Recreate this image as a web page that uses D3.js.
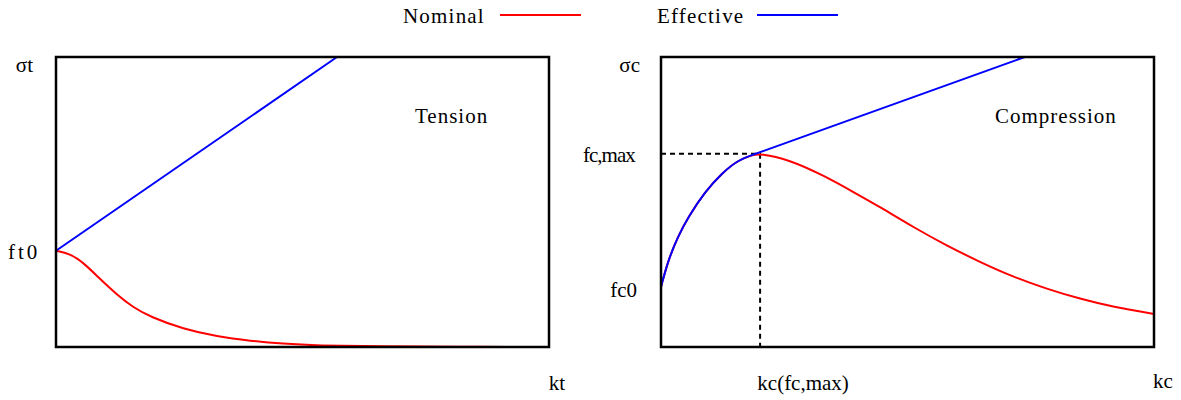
<!DOCTYPE html>
<html>
<head>
<meta charset="utf-8">
<script src="https://cdn.jsdelivr.net/npm/d3@7"></script>
<style>
  body { margin: 0; background: #fff; }
</style>
</head>
<body>
<svg width="1181" height="400" font-family="'Liberation Serif', 'Times New Roman', serif" font-size="21"></svg>
<script>
// punten, genormaliseerd 0..1 (rek, spanning)
const tensionK       = [0, 0.028, 0.055, 0.089, 0.124, 0.156, 0.191, 0.258, 0.327, 0.394, 0.460, 0.529, 0.663, 0.8, 1.0];
const tensionNominal = [0.332, 0.322, 0.292, 0.235, 0.180, 0.137, 0.104, 0.062, 0.036, 0.021, 0.011, 0.005, 0.002, 0.001, 0];
const tensionEffK    = [0, 0.570];
const tensionEff     = [0.332, 1.0];

const compK       = [0, 0.014, 0.034, 0.055, 0.089, 0.124, 0.156, 0.185, 0.201, 0.258, 0.327, 0.394, 0.444, 0.511, 0.580, 0.647, 0.714, 0.783, 0.850, 0.917, 1.0];
const compNominal = [0.207, 0.296, 0.380, 0.447, 0.535, 0.600, 0.644, 0.662, 0.667, 0.647, 0.594, 0.531, 0.483, 0.414, 0.349, 0.293, 0.242, 0.200, 0.166, 0.138, 0.114];
// effectief: stijgende tak gelijk aan nominaal, daarna rechte lijn
const compEffK    = [0, 0.014, 0.034, 0.055, 0.089, 0.124, 0.156, 0.185, 0.738];
const compEff     = [0.207, 0.296, 0.380, 0.447, 0.535, 0.600, 0.644, 0.662, 1.0];

const peakK = 0.201, peakS = 0.666;

const seriesNames = ["Nominal", "Effective"];
const seriesColors = ["#ff0000", "#0000ff"];

const svg = d3.select("svg");

function zip(xs, ys) { return xs.map((x, i) => [x, ys[i]]); }

function panel(x0, x1, o) {
  let x = d3.scaleLinear().domain([0, 1]).range([x0, x1]);
  let y = d3.scaleLinear().domain([0, 1]).range([347, 57]);
  let g = svg.append("g");
  let curve = d3.line().x(d => x(d[0])).y(d => y(d[1])).curve(d3.curveBasis);

  // stippellijnen naar het maximum
  if (o.peak) {
    g.append("path")
      .attr("d", "M" + x(0) + "," + y(o.peak[1]) + "H" + x(o.peak[0]) + "V" + y(0))
      .attr("fill", "none").attr("stroke", "#000")
      .attr("stroke-width", 2).attr("stroke-dasharray", "5,4");
  }

  g.append("path").datum(o.nominal).attr("d", curve)
    .attr("fill", "none").attr("stroke", seriesColors[0]).attr("stroke-width", 2);

  // effectief: gebogen deel + laatste punt als rechte lijn
  let eff = o.effective;
  let d = eff.length > 2 ? curve(eff.slice(0, -1)) : "M" + x(eff[0][0]) + "," + y(eff[0][1]);
  d += "L" + x(eff[eff.length - 1][0]) + "," + y(eff[eff.length - 1][1]);
  g.append("path").attr("d", d)
    .attr("fill", "none").attr("stroke", seriesColors[1]).attr("stroke-width", 2);

  g.append("rect")
    .attr("x", x0).attr("y", 57).attr("width", x1 - x0).attr("height", 290)
    .attr("fill", "none").attr("stroke", "#000").attr("stroke-width", 2.5);

  return { x: x, y: y, g: g };
}

let left = panel(56, 549, {
  nominal: zip(tensionK, tensionNominal),
  effective: zip(tensionEffK, tensionEff)
});
let right = panel(661, 1154, {
  nominal: zip(compK, compNominal),
  effective: zip(compEffK, compEff),
  peak: [peakK, peakS]
});

function label(g, x, y, t, anchor, spacing) {
  g.append("text").attr("x", x).attr("y", y)
    .attr("text-anchor", anchor || "start")
    .attr("letter-spacing", spacing || 0)
    .text(t);
}

// as labels
label(left.g, 33, 72, "σt", "end");
label(left.g, 8, left.y(tensionNominal[0]) + 8, "ft0", "start", 3);
label(left.g, 557, 390, "kt", "middle");
label(left.g, 415, 123, "Tension", "start", 1);

label(right.g, 640, 72, "σc", "end");
label(right.g, 583, right.y(peakS) + 8, "fc,max", "start", -1);
label(right.g, 637, right.y(compNominal[0]) + 10, "fc0", "end");
label(right.g, right.x(peakK) + 43, 390, "kc(fc,max)", "middle");
label(right.g, 1163, 388, "kc", "middle");
label(right.g, 995, 123, "Compression", "start", 1);

// legenda
let legendX = [403, 657], legendLine = [[500, 581], [757, 838]];
let leg = svg.append("g").selectAll("g").data(seriesNames).enter().append("g");
leg.append("text").attr("x", (d, i) => legendX[i]).attr("y", 23)
  .attr("letter-spacing", 1.2).text(d => d);
leg.append("line")
  .attr("x1", (d, i) => legendLine[i][0]).attr("x2", (d, i) => legendLine[i][1])
  .attr("y1", 15).attr("y2", 15)
  .attr("stroke", (d, i) => seriesColors[i]).attr("stroke-width", 2);
</script>
</body>
</html>
